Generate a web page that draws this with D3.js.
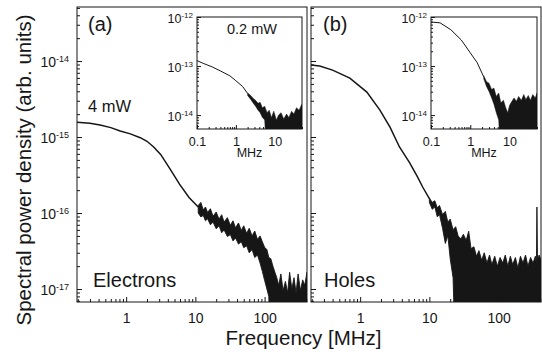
<!DOCTYPE html>
<html>
<head>
<meta charset="utf-8">
<script src="https://cdn.jsdelivr.net/npm/d3@7"></script>
<style>
body { margin: 0; background: #fff; }
svg { display: block; font-family: "Liberation Sans", Arial, sans-serif; }
</style>
</head>
<body>
<svg id="chart" width="542" height="356"></svg>
<script>
// electrons, 4 mW (main panel a), smooth low-frequency part
const elecFreq = [0.195, 0.3, 0.42, 0.6, 0.82, 1.15, 1.6, 2.0, 2.5, 3.15, 4.3, 5.9, 8.1, 11];
const elecVal = [1.57e-15, 1.52e-15, 1.44e-15, 1.33e-15, 1.2e-15, 1.1e-15, 9.8e-16, 8.8e-16, 7.4e-16, 5.9e-16, 3.8e-16, 2.4e-16, 1.6e-16, 1.2e-16];
// electrons, noisy high-frequency band (upper / lower envelope)
const elecBandFreq = [11, 12, 13, 14, 15, 16.5, 18, 20, 22, 24, 26, 29, 32, 35, 38, 42, 46, 50, 55, 60, 66, 72, 79, 86, 93, 100,
  108, 115, 123, 132, 141, 150, 160, 172, 185, 200, 215, 230, 248, 266, 285, 305, 330, 355, 380, 410];
const elecBandHi = [1.26e-16, 1.38e-16, 1.1e-16, 1.2e-16, 1.02e-16, 1.14e-16, 9.1e-17, 1.03e-16, 8.3e-17, 9.5e-17, 7.6e-17, 8.7e-17,
  6.9e-17, 7.9e-17, 6.4e-17, 7.4e-17, 5.9e-17, 6.8e-17, 5.4e-17, 6.3e-17, 5.0e-17, 5.8e-17, 4.5e-17, 5.0e-17, 4.17e-17,
  3.55e-17, 3.3e-17, 2.6e-17, 2.51e-17, 2.0e-17, 1.66e-17, 1.41e-17, 1.12e-17, 1.58e-17, 9.55e-18, 1.26e-17, 8.91e-18, 1.66e-17,
  1.0e-17, 1.41e-17, 8.91e-18, 1.58e-17, 9.55e-18, 1.32e-17, 1.12e-17, 1.66e-17];
const elecBandLo = [1.0e-16, 8.9e-17, 9.3e-17, 7.9e-17, 8.4e-17, 7.0e-17, 7.6e-17, 6.2e-17, 6.8e-17, 5.5e-17, 6.0e-17,
  4.9e-17, 5.2e-17, 4.3e-17, 4.7e-17, 3.9e-17, 4.2e-17, 3.5e-17, 3.7e-17, 3.0e-17, 3.3e-17, 2.6e-17, 2.8e-17, 2.2e-17,
  1.7e-17, 1.3e-17, 1.0e-17, 8.0e-18];

// holes, 4 mW (main panel b)
const holeFreq = [0.195, 0.26, 0.4, 0.71, 1.25, 1.93, 2.7, 3.7, 5.2, 6.8, 8.0, 10];
const holeVal = [8.85e-15, 8.6e-15, 7.6e-15, 5.97e-15, 3.9e-15, 2.26e-15, 1.35e-15, 7.4e-16, 4.57e-16, 2.95e-16, 2.2e-16, 1.55e-16];
const holeBandFreq = [10, 11, 12, 13, 14, 15.5, 17, 18.5, 20, 22, 24, 26, 28.5, 31, 34, 37, 40, 44, 48, 52, 57, 62, 68, 74, 80,
  88, 96, 105, 115, 125, 136, 148, 160, 175, 190, 207, 225, 245, 265, 290, 315, 340, 352, 358, 365, 385, 410];
const holeBandHi = [1.58e-16, 1.38e-16, 1.45e-16, 1.17e-16, 1.26e-16, 9.55e-17, 1.05e-16, 7.59e-17, 8.32e-17, 6.03e-17, 6.61e-17,
  5.01e-17, 4.57e-17, 5.25e-17, 4.37e-17, 5.75e-17, 3.4e-17, 3.6e-17, 2.7e-17, 3.2e-17, 2.4e-17, 3.0e-17, 2.2e-17, 2.8e-17,
  2.1e-17, 2.7e-17, 2.0e-17, 2.6e-17, 2.2e-17, 2.8e-17, 2.0e-17, 2.7e-17, 2.1e-17, 2.6e-17, 1.9e-17, 2.7e-17, 2.2e-17,
  2.8e-17, 2.0e-17, 2.6e-17, 2.2e-17, 2.7e-17, 2.1e-17, 1.2e-16, 2.4e-17, 2.8e-17, 2.4e-17];
const holeBandLo = [1.38e-16, 1.12e-16, 1.2e-16, 8.91e-17, 9.55e-17, 6.31e-17, 3.98e-17, 5.01e-17, 2.51e-17, 1.41e-17];

// insets, 0.2 mW
const inElecFreq = [0.1, 0.15, 0.25, 0.4, 0.7, 1.0, 1.5, 2.0];
const inElecVal = [1.29e-13, 1.12e-13, 9.55e-14, 7.94e-14, 6.31e-14, 5.01e-14, 3.8e-14, 2.75e-14];
const inElecBandFreq = [2.0, 2.4, 2.8, 3.2, 3.7, 4.2, 4.8, 5.5, 6.3, 7.2, 8.2, 9.4, 11, 12.5, 14.5, 17, 20, 23, 27, 31, 36, 42, 48, 50];
const inElecBandHi = [2.82e-14, 2.51e-14, 2.19e-14, 2.0e-14, 1.74e-14, 1.82e-14, 1.41e-14, 1.51e-14, 1.12e-14, 1.26e-14, 8.91e-15,
  1.2e-14, 7.94e-15, 1.0e-14, 1.12e-14, 8.32e-15, 1.05e-14, 8.91e-15, 1.2e-14, 1.05e-14, 1.41e-14, 1.26e-14, 1.58e-14, 1.66e-14];
const inElecBandLo = [2.51e-14, 2.09e-14, 1.74e-14, 1.51e-14, 1.26e-14, 1.12e-14, 8.91e-15, 7.94e-15];

const inHoleFreq = [0.1, 0.17, 0.32, 0.59, 1.0, 1.5, 2.2];
const inHoleVal = [7.9e-13, 7.6e-13, 5.5e-13, 3.4e-13, 1.86e-13, 1.17e-13, 6.0e-14];
const inHoleBandFreq = [2.2, 2.6, 3.0, 3.5, 4, 4.6, 5.3, 6, 7, 8, 9, 10, 11.5, 13, 15, 17, 20, 23, 26, 30, 34, 39, 45, 50];
const inHoleBandHi = [6.31e-14, 4.79e-14, 4.47e-14, 3.31e-14, 3.55e-14, 2.4e-14, 2.82e-14, 1.78e-14, 2.0e-14, 1.41e-14, 1.12e-14,
  1.58e-14, 1.91e-14, 2.24e-14, 1.91e-14, 2.4e-14, 2.0e-14, 2.63e-14, 2.09e-14, 2.51e-14, 2.0e-14, 2.63e-14, 2.24e-14, 2.82e-14];
const inHoleBandLo = [5.5e-14, 3.8e-14, 3.02e-14, 2.24e-14, 1.66e-14, 1.12e-14, 7.94e-15];

// lower envelope past the listed points sits below the axis
const floorMain = 1e-18;
const floorInset = 1e-15;

const yTitle = 'Spectral power density (arb. units)';
const xTitle = 'Frequency [MHz]';
const insetUnit = 'MHz';

const ink = '#161616';
const svg = d3.select('#chart');
svg.append('rect').attr('width', 542).attr('height', 356).attr('fill', '#fff');

const yMain = d3.scaleLog().domain([6.75e-18, 5.14e-14]).range([302, 7]);
const xA = d3.scaleLog().domain([0.195, 410]).range([77, 307]);
const xB = d3.scaleLog().domain([0.195, 410]).range([311, 541]);
const yIn = d3.scaleLog().domain([5.2e-15, 1e-12]).range([129, 17]);
const xInA = d3.scaleLog().domain([0.1, 50]).range([197, 302]);
const xInB = d3.scaleLog().domain([0.1, 50]).range([431, 537]);

function logTicks(lo, hi) {
  const out = [];
  for (let e = Math.floor(Math.log10(lo)); e <= Math.ceil(Math.log10(hi)); e++)
    for (let m = 1; m < 10; m++) {
      const v = m * Math.pow(10, e);
      if (v >= lo * 0.9999 && v <= hi * 1.0001) out.push(v);
    }
  return out;
}
const isMajor = v => Math.abs(Math.log10(v) - Math.round(Math.log10(v))) < 1e-6;

let clipN = 0;
function panel(x, y, o) {
  const g = svg.append('g').style('color', ink);
  const [x0, x1] = x.range(), [y0, y1] = y.range();
  const id = 'clip' + (clipN++);
  svg.append('clipPath').attr('id', id).append('rect')
    .attr('x', x0).attr('y', y1).attr('width', x1 - x0).attr('height', y0 - y1);
  g.append('rect').attr('x', x0).attr('y', y1).attr('width', x1 - x0).attr('height', y0 - y1).attr('fill', '#fff');

  const plot = g.append('g').attr('clip-path', `url(#${id})`);
  const rows = o.bandFreq.map((f, i) => ({ f, hi: o.bandHi[i], lo: i < o.bandLo.length ? o.bandLo[i] : o.floor }));
  plot.append('path').datum(rows)
    .attr('d', d3.area().x(d => x(d.f)).y0(d => y(d.lo)).y1(d => y(d.hi)))
    .attr('fill', ink).attr('stroke', ink).attr('stroke-width', o.bandStroke);
  plot.append('path').datum(o.freq.map((f, i) => [f, o.val[i]]))
    .attr('d', d3.line().x(d => x(d[0])).y(d => y(d[1])))
    .attr('fill', 'none').attr('stroke', ink).attr('stroke-width', o.lineW);

  const xt = logTicks(...x.domain()), yt = logTicks(...y.domain());
  const bottom = g.append('g').attr('transform', `translate(0,${y0})`);
  bottom.append('g').call(d3.axisBottom(x).tickValues(xt.filter(v => !isMajor(v))).tickSize(-o.minor).tickFormat(''));
  bottom.append('g').call(d3.axisBottom(x).tickValues(xt.filter(isMajor)).tickSize(-o.major)
    .tickPadding(o.xPad).tickFormat(d3.format('~g')));
  bottom.selectAll('.domain').remove();
  bottom.selectAll('text').attr('font-size', o.labelSize).attr('font-family', null);

  const left = g.append('g').attr('transform', `translate(${x0},0)`);
  left.append('g').call(d3.axisLeft(y).tickValues(yt.filter(v => !isMajor(v))).tickSize(-o.minor).tickFormat(''));
  const leftMajor = left.append('g').call(d3.axisLeft(y).tickValues(yt.filter(isMajor)).tickSize(-o.major)
    .tickPadding(o.yPad).tickFormat(''));
  left.selectAll('.domain').remove();
  if (o.yLabels) {
    leftMajor.selectAll('.tick text').attr('font-family', null).attr('font-size', o.labelSize).attr('dy', o.yDy)
      .each(function (d) {
        const t = d3.select(this);
        t.append('tspan').text('10');
        t.append('tspan').attr('dy', '-0.6em').attr('font-size', o.supSize).text(Math.round(Math.log10(d)));
      });
  }
  g.selectAll('.tick line').attr('stroke', ink);

  g.append('rect').attr('x', x0).attr('y', y1).attr('width', x1 - x0).attr('height', y0 - y1)
    .attr('fill', 'none').attr('stroke', ink).attr('stroke-width', 1);
  return g;
}

const mainOpts = { floor: floorMain, lineW: 1.5, bandStroke: 0.9, minor: 3, major: 5, xPad: 11, yPad: 8,
  labelSize: 14, supSize: 9, yDy: '0.42em' };
panel(xA, yMain, Object.assign({ freq: elecFreq, val: elecVal, bandFreq: elecBandFreq, bandHi: elecBandHi, bandLo: elecBandLo,
  yLabels: true }, mainOpts));
panel(xB, yMain, Object.assign({ freq: holeFreq, val: holeVal, bandFreq: holeBandFreq, bandHi: holeBandHi, bandLo: holeBandLo,
  yLabels: false }, mainOpts));

const inOpts = { floor: floorInset, lineW: 1, bandStroke: 0.5, minor: 2, major: 4, xPad: 8, yPad: 4,
  labelSize: 12.5, supSize: 8, yDy: '0.4em', yLabels: true };
panel(xInA, yIn, Object.assign({ freq: inElecFreq, val: inElecVal, bandFreq: inElecBandFreq, bandHi: inElecBandHi,
  bandLo: inElecBandLo }, inOpts));
panel(xInB, yIn, Object.assign({ freq: inHoleFreq, val: inHoleVal, bandFreq: inHoleBandFreq, bandHi: inHoleBandHi,
  bandLo: inHoleBandLo }, inOpts));

const txt = (x, y, s, size, anchor) => svg.append('text').attr('x', x).attr('y', y).attr('font-size', size)
  .attr('fill', ink).attr('text-anchor', anchor || 'start').text(s);

txt(88, 31, '(a)', 20);
txt(323, 31, '(b)', 20);
txt(88, 112, '4 mW', 16.5);
txt(227, 34, '0.2 mW', 14.5);
txt(93, 287, 'Electrons', 20);
txt(324, 287, 'Holes', 20);
txt(249.5, 157, insetUnit, 12.5, 'middle');
txt(484, 157, insetUnit, 12.5, 'middle');
txt(303.5, 345, xTitle, 20.5, 'middle');
svg.append('text').attr('transform', 'translate(31,170) rotate(-90)').attr('text-anchor', 'middle')
  .attr('font-size', 20.5).attr('fill', ink).text(yTitle);
</script>
</body>
</html>
